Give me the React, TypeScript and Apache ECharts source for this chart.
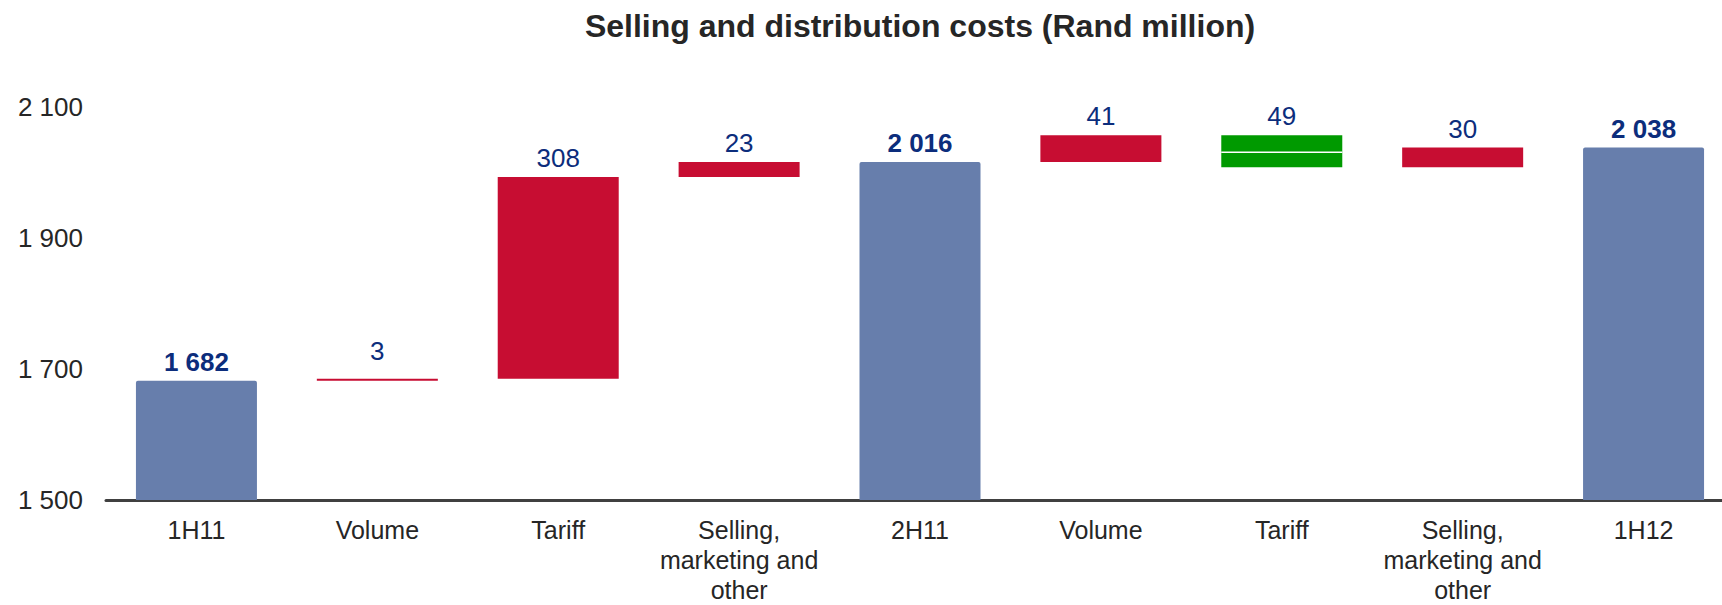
import React, { useEffect, useRef } from "react";
import * as echarts from "echarts";

const categories = [
  "1H11",
  "Volume",
  "Tariff",
  "Selling,\nmarketing and\nother",
  "2H11",
  "Volume",
  "Tariff",
  "Selling,\nmarketing and\nother",
  "1H12",
];
// totals are marked true; the rest are changes
const isTotal = [true, false, false, false, true, false, false, false, true];
const values = [1682, 3, 308, 23, 2016, 41, -49, 30, 2038];
// the green (decrease) bar is drawn in two pieces, split by a thin white line
const greenPieces = [23, 26];
const yTicks = { min: 1500, max: 2100, interval: 200 };

const fmt = (v: number) =>
  String(Math.abs(v)).replace(/\B(?=(\d{3})+(?!\d))/g, " ");

export default function App() {
  const ref = useRef<HTMLDivElement>(null);
  useEffect(() => {
    if (!ref.current) return;
    document.documentElement.style.overflow = "hidden";
    document.body.style.overflow = "hidden";
    const chart = echarts.init(ref.current, undefined, { renderer: "svg" });

    const base: any[] = [];
    const totalData: any[] = [];
    const incData: any[] = [];
    const decLow: any[] = [];
    const decHigh: any[] = [];
    let running = 0;
    values.forEach((v, i) => {
      if (isTotal[i]) {
        running = v;
        base.push(0);
        totalData.push(v);
        incData.push("-");
        decLow.push("-");
        decHigh.push("-");
      } else if (v >= 0) {
        base.push(running);
        incData.push(
          v < 8 ? { value: v, label: { distance: 15 } } : { value: v }
        );
        running += v;
        totalData.push("-");
        decLow.push("-");
        decHigh.push("-");
      } else {
        running += v;
        base.push(running);
        decLow.push(greenPieces[0]);
        decHigh.push(greenPieces[1]);
        totalData.push("-");
        incData.push("-");
      }
    });

    const navy = "#0c2d7c";
    const labelBase = {
      show: true,
      position: "top" as const,
      distance: 6,
      fontSize: 26,
      fontFamily: "Liberation Sans",
      color: navy,
    };

    chart.setOption({
      animation: false,
      title: {
        text: "Selling and distribution costs (Rand million)",
        left: 915,
        top: 5,
        textAlign: "center",
        textStyle: {
          fontSize: 32,
          fontWeight: "bold",
          fontFamily: "Liberation Sans",
          color: "#262626",
        },
      },
      grid: { left: 106, top: 107, width: 1628, bottom: 105 },
      xAxis: {
        type: "category",
        data: categories,
        axisLine: { lineStyle: { color: "#404040", width: 3 } },
        axisTick: { show: false },
        axisLabel: {
          fontSize: 25,
          lineHeight: 30,
          color: "#262626",
          fontFamily: "Liberation Sans",
          margin: 15,
          interval: 0,
        },
      },
      yAxis: {
        type: "value",
        min: yTicks.min,
        max: yTicks.max,
        interval: yTicks.interval,
        splitLine: { show: false },
        axisLine: { show: false },
        axisTick: { show: false },
        axisLabel: {
          fontSize: 26,
          color: "#262626",
          fontFamily: "Liberation Sans",
          margin: 23,
          formatter: (v: number) => fmt(v),
        },
      },
      series: [
        {
          type: "bar",
          stack: "w",
          data: base,
          barWidth: 121,
          itemStyle: { color: "transparent" },
          silent: true,
        },
        {
          type: "bar",
          stack: "w",
          data: totalData,
          barWidth: 123,
          itemStyle: { color: "#677eac", borderRadius: [2, 2, 0, 0] },
          label: {
            ...labelBase,
            fontWeight: "bold",
            formatter: (p: any) => fmt(p.value),
          },
        },
        {
          type: "bar",
          stack: "w",
          data: incData,
          barWidth: 121,
          itemStyle: { color: "#c70d32" },
          label: { ...labelBase, formatter: (p: any) => fmt(p.value) },
        },
        {
          type: "bar",
          stack: "w",
          data: decLow,
          barWidth: 121,
          itemStyle: { color: "#009a00" },
        },
        {
          type: "bar",
          stack: "w",
          data: decHigh,
          barWidth: 121,
          itemStyle: { color: "#009a00" },
          label: {
            ...labelBase,
            formatter: (p: any) => fmt(values[p.dataIndex]),
          },
        },
      ],
      graphic: [],
    });

    // thin white separator between the two green pieces, positioned via the axis scale
    const idx = values.findIndex((v, i) => !isTotal[i] && v < 0);
    if (idx >= 0) {
      const yVal = base[idx] + greenPieces[0];
      const [cx, cy] = chart.convertToPixel({ gridIndex: 0 }, [idx, yVal]) as number[];
      chart.setOption({
        graphic: [
          {
            type: "line",
            shape: { x1: cx - 60.5, y1: cy, x2: cx + 60.5, y2: cy },
            style: { stroke: "#ffffff", lineWidth: 1.5 },
            z: 100,
          },
        ],
      });
    }

    return () => chart.dispose();
  }, []);
  return (
    <div
      ref={ref}
      style={{ position: "absolute", left: 0, top: 0, width: 1740, height: 605 }}
    />
  );
}
